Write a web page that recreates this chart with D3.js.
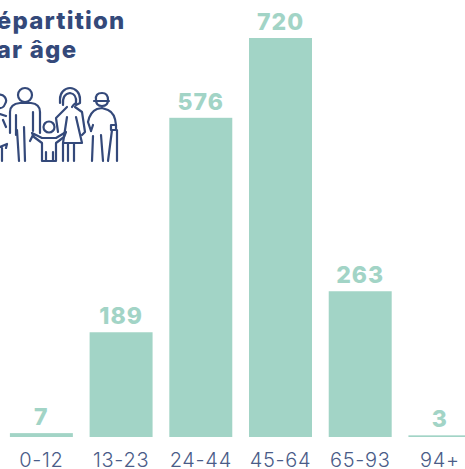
<!DOCTYPE html>
<html>
<head>
<meta charset="utf-8">
<script src="https://cdn.jsdelivr.net/npm/d3@7"></script>
<style>
  html, body { margin: 0; padding: 0; background: #fff; overflow: hidden; }
  text { font-family: Inter, "Noto Sans", sans-serif; }
</style>
</head>
<body>
<svg id="chart" width="465" height="469"></svg>
<script>
const categories = ["0-12", "13-23", "24-44", "45-64", "65-93", "94+"];
const counts = [7, 189, 576, 720, 263, 3];
const titleLines = ["Répartition", "par âge"];

const svg = d3.select("#chart");
const green = "#a2d4c6";
const navy = "#34497a";
const baseY = 437;

const x = d3.scaleBand().domain(categories).range([9.9, 471.4]).paddingInner(0.21).paddingOuter(0);
const y = d3.scaleLinear().domain([0, 720]).range([baseY, 38]);

// barres
svg.selectAll("rect.bar").data(counts).join("rect")
  .attr("class", "bar")
  .attr("x", (d, i) => x(categories[i]))
  .attr("y", d => y(d))
  .attr("width", x.bandwidth())
  .attr("height", d => baseY - y(d))
  .attr("fill", green);

// valeurs
svg.selectAll("text.val").data(counts).join("text")
  .attr("class", "val")
  .attr("x", (d, i) => x(categories[i]) + x.bandwidth() / 2)
  .attr("y", d => y(d) - 8)
  .attr("text-anchor", "middle")
  .attr("font-size", 23)
  .attr("font-weight", 800)
  .attr("letter-spacing", 1)
  .attr("fill", green)
  .text(d => d);

// axe x
const axis = svg.append("g")
  .attr("transform", `translate(0,${baseY})`)
  .call(d3.axisBottom(x).tickSize(0).tickPadding(16));
axis.select(".domain").remove();
axis.selectAll("text")
  .attr("font-size", 20)
  .attr("font-weight", 300)
  .attr("letter-spacing", 0.7)
  .attr("fill", "#4a5c88")
  .style("font-family", "Inter, sans-serif");

// titre
svg.selectAll("text.title").data(titleLines).join("text")
  .attr("class", "title")
  .attr("x", -20)
  .attr("y", (d, i) => 29 + i * 29)
  .attr("font-size", 24)
  .attr("font-weight", 800)
  .attr("letter-spacing", 1.2)
  .attr("fill", navy)
  .text(d => d);

// pictogramme famille
const icon = svg.append("g")
  .attr("fill", "none")
  .attr("stroke", navy)
  .attr("stroke-width", 2.2)
  .attr("stroke-linecap", "round")
  .attr("stroke-linejoin", "round");

const iconPaths = [
  // enfant coupé à gauche
  "M-2 95 A6 6 0 0 1 5 104 A6 6 0 0 1 -2 108",
  "M0 114 L6 116 M3 120 L6 127 M0 147 L7 144 L6 148 M2 148 V161",
  // homme
  "M10 133 V112 Q10 104 20 103 H31 Q40 104 40 112 V133",
  "M33 112 V131 M16 115 V135",
  "M17 130 L19 161 M24 127 L25 161 M33 135 L30 141",
  // enfant
  "M32 133 L42 138 L56 138 L66 132 L64 137 L56 143 V161 H42 V143 L34 137 Z",
  "M46 152 V161 M53 152 V161",
  // femme
  "M60 103 V99 A10 11 0 0 1 80 99 V103 L76 105",
  "M63 105 Q62 94 70 93 Q77 94 76 103 Q73 105 72 107",
  "M67 107 L56 118 L58 132 M75 107 L82 112 L85 132 L82 135",
  "M67 117 L63 143 H82 L76 117",
  "M63 143 V161 M68 143 V161 M74 143 V161",
  // dame âgée
  "M94 101 H109 M96 100 Q95 93 102 93 Q108 93 108 100 Q108 106 102 106 Q96 106 96 100",
  "M91 131 L88 122 Q90 112 97 109 L102 108 L108 110 Q115 113 116 125",
  "M91 131 L93 125 M93 136 L92 161 M101 135 L103 161 M112 130 L108 161",
  "M111 125 H116 V130 H111 Z M117 130 V161"
];

icon.selectAll("path").data(iconPaths).join("path").attr("d", d => d);
icon.append("circle").attr("cx", 25).attr("cy", 95).attr("r", 7);
icon.append("circle").attr("cx", 49).attr("cy", 127).attr("r", 5.5);
</script>
</body>
</html>
